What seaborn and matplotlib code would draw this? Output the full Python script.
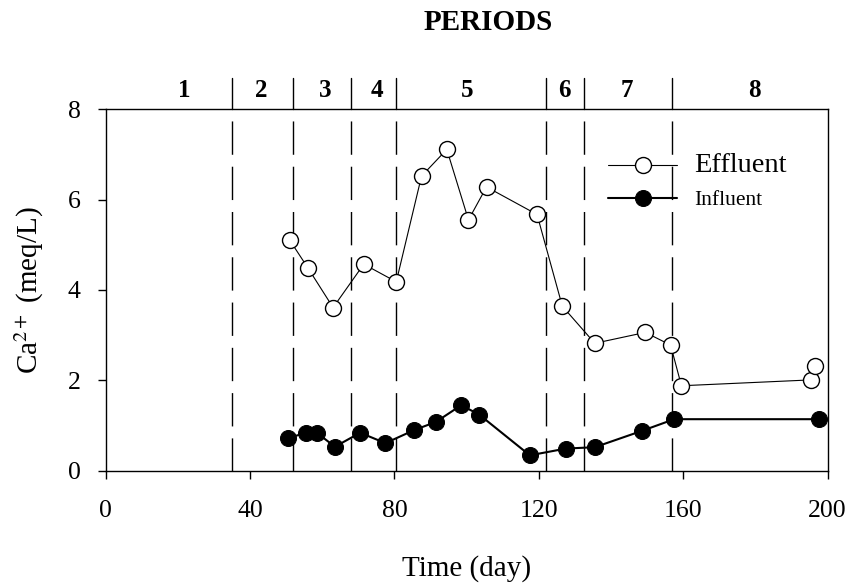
import numpy as np
import pandas as pd
import matplotlib
matplotlib.use("Agg")
import matplotlib.pyplot as plt
import seaborn as sns

# -----------------------------
# Data
# -----------------------------
eff_day = [51, 56, 63, 71.5, 80.5, 87.5, 94.5, 100.5, 105.5, 119.5, 126.5, 135.5, 149.5, 156.5, 159.5, 195.5, 196.5]
eff_ca = [5.10, 4.49, 3.61, 4.57, 4.18, 6.52, 7.11, 5.55, 6.28, 5.67, 3.64, 2.82, 3.06, 2.78, 1.88, 2.01, 2.32]

inf_day = [50.5, 55.5, 58.5, 63.5, 70.5, 77.5, 85.5, 91.5, 98.5, 103.5, 117.5, 127.5, 135.5, 148.5, 157.5, 197.5]
inf_ca = [0.72, 0.84, 0.84, 0.53, 0.84, 0.61, 0.90, 1.08, 1.45, 1.24, 0.34, 0.49, 0.52, 0.88, 1.14, 1.14]

# period boundaries (day), labels and where each label sits
period_bounds = [35, 52, 68, 80.5, 122, 132.5, 157]
period_labels = ["1", "2", "3", "4", "5", "6", "7", "8"]
period_label_day = [21.7, 43.2, 60.7, 75.2, 100, 127.2, 144.3, 179.6]

eff = pd.DataFrame({"day": eff_day, "ca": eff_ca})
inf = pd.DataFrame({"day": inf_day, "ca": inf_ca})

# -----------------------------
# Style
# -----------------------------
sns.set_style("ticks")
plt.rcParams["font.family"] = ["Liberation Serif", "DejaVu Serif"]
plt.rcParams["mathtext.fontset"] = "stix"
for k in ["text.color", "axes.labelcolor", "xtick.color", "ytick.color", "axes.edgecolor"]:
    plt.rcParams[k] = "black"

fig = plt.figure(figsize=(8.55, 5.84), dpi=100)
ax = fig.add_axes([0.1236, 0.194, 0.8444, 0.619])

# period separators: dashed inside the axes (drawn top-down so it starts with a gap)
for b in period_bounds:
    ax.plot([b, b], [8, 0], color="black", lw=1.0, linestyle=(24, (24, 8.6)), zorder=1)

sns.lineplot(data=eff, x="day", y="ca", ax=ax, sort=False, estimator=None,
             color="black", lw=0.8, marker="o", markersize=11.5,
             markerfacecolor="white", markeredgecolor="black", markeredgewidth=1.0,
             label="Effluent", zorder=3)
sns.lineplot(data=inf, x="day", y="ca", ax=ax, sort=False, estimator=None,
             color="black", lw=1.5, marker="o", markersize=11.5,
             markerfacecolor="black", markeredgecolor="black",
             label="Influent", zorder=3)

ax.set_xlim(0, 200)
ax.set_ylim(0, 8)
ax.set_xticks([0, 40, 80, 120, 160, 200])
ax.set_yticks([0, 2, 4, 6, 8])
ax.tick_params(direction="out", length=6, width=1, labelsize=18.5, colors="black")
ax.tick_params(axis="x", pad=15)
ax.tick_params(axis="y", pad=12)
for s in ax.spines.values():
    s.set_visible(True)
    s.set_linewidth(1.0)
    s.set_color("black")

ax.set_xlabel("Time (day)", fontsize=21)
ax.set_ylabel(r"Ca$^{2+}$ (meq/L)", fontsize=21)
ax.xaxis.set_label_coords(0.5, -0.232)
ax.yaxis.set_label_coords(-0.083, 0.5)

# period strip above the axes
for b in period_bounds:
    ax.plot([b, b], [8, 8.7], color="black", lw=1.0, clip_on=False)
for d, lab in zip(period_label_day, period_labels):
    ax.text(d, 8.42, lab, ha="center", va="center", fontsize=18, fontweight="bold")
fig.text(0.571, 0.962, "PERIODS", ha="center", va="center", fontsize=21, fontweight="bold")

# legend
leg = ax.legend(loc="center left", bbox_to_anchor=(0.696, 0.80), frameon=False,
                prop={"size": 15}, handlelength=3.3, handletextpad=0.85,
                labelspacing=0.6, borderpad=0, borderaxespad=0)
texts = leg.get_texts()
texts[0].set_fontsize(20.5)
texts[1].set_fontsize(15.5)

fig.savefig("out.png", dpi=100)
